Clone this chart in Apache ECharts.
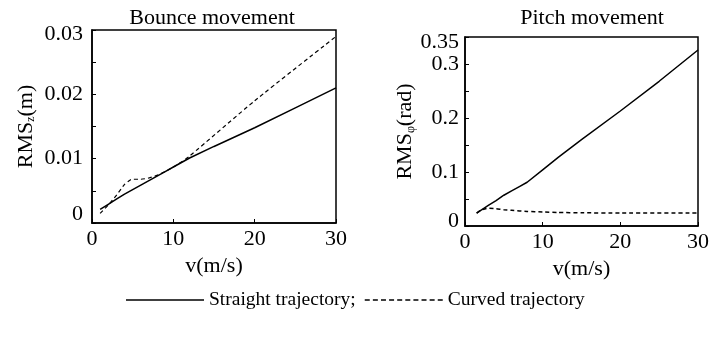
<!DOCTYPE html>
<html><head><meta charset="utf-8">
<script src="https://cdn.jsdelivr.net/npm/echarts@6/dist/echarts.min.js"></script>
<style>html,body{margin:0;padding:0;background:#fff}#c{width:712px;height:338px}</style>
</head><body><div id="c"></div>
<script>
// Bounce movement data: [v, RMS_z]
const bounceStraight = [[1,0.0021],[2,0.0029],[3,0.0037],[4,0.0045],[5,0.0052],[6,0.0059],[7,0.0066],[8,0.0073],[9,0.008],[10,0.0087],[12,0.0101],[15,0.0119],[20,0.0148],[25,0.0179],[30,0.021]];
const bounceCurved = [[1,0.0015],[2,0.0028],[3,0.0043],[4,0.006],[4.7,0.0067],[5,0.0068],[6,0.0068],[7,0.007],[8,0.0074],[9,0.008],[10,0.0087],[11,0.0095],[12,0.0104],[20,0.019],[30,0.029]];
// Pitch movement data: [v, RMS_phi]
const pitchStraight = [[1.5,0.024],[3,0.038],[4,0.047],[5,0.057],[6,0.065],[7,0.073],[8,0.081],[10,0.104],[12,0.127],[15,0.16],[20,0.213],[25,0.268],[30,0.326]];
const pitchCurved = [[1.5,0.024],[2,0.029],[3,0.033],[4,0.032],[5,0.03],[6,0.029],[8,0.027],[10,0.026],[12,0.025],[15,0.0245],[20,0.024],[30,0.024]];
const xTicks = [0,10,20,30];
const bounceYTicks = [0,0.01,0.02,0.03];
const pitchYTicks = [0,0.1,0.2,0.3,0.35];
const titles = ['Bounce movement','Pitch movement'];
const seriesNames = ['Straight trajectory;','Curved trajectory'];

const FONT = 'Liberation Serif';
const chart = echarts.init(document.getElementById('c'));
const near = (v, arr) => arr.some(t => Math.abs(t - v) < 1e-9);
// legend icons (solid bar and dashed bar)
const ICON_W = 78;
const solidIcon = 'path://M0,0h' + ICON_W + 'v1.6h-' + ICON_W + 'z';
let dashedIcon = 'path://';
for (let i = 0; i < 10; i++) { dashedIcon += 'M' + (i * 8.1).toFixed(1) + ',0h5v1.6h-5z'; }
const lbl = {fontFamily:FONT,fontSize:22,color:'#000'};
const labelRich = {
  n:lbl,
  up:Object.assign({padding:[0,0,18,0]},lbl),
  upS:Object.assign({padding:[0,0,10,0]},lbl),
  dn:Object.assign({padding:[8,0,0,0]},lbl),
  dnL:Object.assign({padding:[10,0,0,0]},lbl)
};
function xAxis(gi){
  return {gridIndex:gi,type:'value',min:0,max:30,interval:10,
    name:'v(m/s)',nameLocation:'middle',nameGap:26,
    nameTextStyle:{fontFamily:FONT,fontSize:22,color:'#000'},
    axisLine:{show:true,lineStyle:{color:'#000',width:1.5}},
    axisTick:{show:true,inside:true,length:4,lineStyle:{color:'#000'}},
    axisLabel:{fontFamily:FONT,fontSize:22,color:'#000',margin:5,
      formatter:v=>near(v,xTicks)?String(v):''},
    splitLine:{show:false}};
}
const chartOpt = {
  animation:false,
  backgroundColor:'#fff',
  title:[
    {text:titles[0],left:207,top:2,textAlign:'center',textStyle:{fontFamily:FONT,fontSize:22,fontWeight:'normal',color:'#000'}},
    {text:titles[1],left:587,top:2,textAlign:'center',textStyle:{fontFamily:FONT,fontSize:22,fontWeight:'normal',color:'#000'}}
  ],
  legend:{top:285,left:121,itemWidth:ICON_W,itemHeight:14,itemGap:9,
    textStyle:{fontFamily:FONT,fontSize:19.5,color:'#000'},
    data:[{name:seriesNames[0],icon:solidIcon},{name:seriesNames[1],icon:dashedIcon}]},
  grid:[
    {left:92,top:30,width:244,height:193,show:true,borderColor:'#000',borderWidth:1.5,backgroundColor:'transparent'},
    {left:465,top:37,width:240,height:189,show:true,borderColor:'#000',borderWidth:1.5,backgroundColor:'transparent'}
  ],
  xAxis:[xAxis(0),xAxis(1)],
  yAxis:[
    {gridIndex:0,type:'value',min:0,max:0.03,interval:0.005,
      name:'{a|RMS}{s|z}{a|(m)}',nameLocation:'middle',nameRotate:90,nameGap:55,
      nameTextStyle:{rich:{a:{fontFamily:FONT,fontSize:22,color:'#000'},s:{fontFamily:FONT,fontSize:12,color:'#000',verticalAlign:'bottom',padding:[10,0,0,0]}}},
      axisLine:{show:true,lineStyle:{color:'#000',width:1.5}},
      axisTick:{show:true,inside:true,length:4,lineStyle:{color:'#000'}},
      axisLabel:{fontFamily:FONT,fontSize:22,color:'#000',margin:9,rich:labelRich,showMinLabel:true,showMaxLabel:true,hideOverlap:false,
        formatter:v=>{
          if(!near(v,bounceYTicks)) return '';
          if(v===0) return '{up|0}';
          if(near(v,[0.03])) return '{dn|0.03}';
          return '{n|'+v.toFixed(2)+'}';
        }},
      splitLine:{show:false}},
    {gridIndex:1,type:'value',min:0,max:0.35,interval:0.05,
      name:'{a|RMS}{s|φ}{a|(rad)}',nameLocation:'middle',nameRotate:90,nameGap:48,
      nameTextStyle:{rich:{a:{fontFamily:FONT,fontSize:22,color:'#000'},s:{fontFamily:FONT,fontSize:12,color:'#000',verticalAlign:'bottom',padding:[10,0,0,0]}}},
      axisLine:{show:true,lineStyle:{color:'#000',width:1.5}},
      axisTick:{show:true,inside:true,length:4,lineStyle:{color:'#000'}},
      axisLabel:{fontFamily:FONT,fontSize:22,color:'#000',margin:6,rich:labelRich,showMinLabel:true,showMaxLabel:true,hideOverlap:false,
        formatter:v=>{
          if(!near(v,pitchYTicks)) return '';
          if(v===0) return '{upS|0}';
          if(near(v,[0.35])) return '{dnL|0.35}';
          return '{n|'+String(+v.toFixed(2))+'}';
        }},
      splitLine:{show:false}}
  ],
  series:[
    {name:seriesNames[0],type:'line',xAxisIndex:0,yAxisIndex:0,data:bounceStraight,symbol:'none',smooth:false,lineStyle:{color:'#000',width:1.5,type:'solid'},itemStyle:{color:'#000'}},
    {name:seriesNames[1],type:'line',xAxisIndex:0,yAxisIndex:0,data:bounceCurved,symbol:'none',smooth:0.2,lineStyle:{color:'#000',width:1.2,type:[4,3]},itemStyle:{color:'#000'}},
    {name:seriesNames[0],type:'line',xAxisIndex:1,yAxisIndex:1,data:pitchStraight,symbol:'none',smooth:false,lineStyle:{color:'#000',width:1.5,type:'solid'},itemStyle:{color:'#000'}},
    {name:seriesNames[1],type:'line',xAxisIndex:1,yAxisIndex:1,data:pitchCurved,symbol:'none',smooth:0.2,lineStyle:{color:'#000',width:1.5,type:[4,3]},itemStyle:{color:'#000'}}
  ]
};
chart.setOption(chartOpt);
</script></body></html>
